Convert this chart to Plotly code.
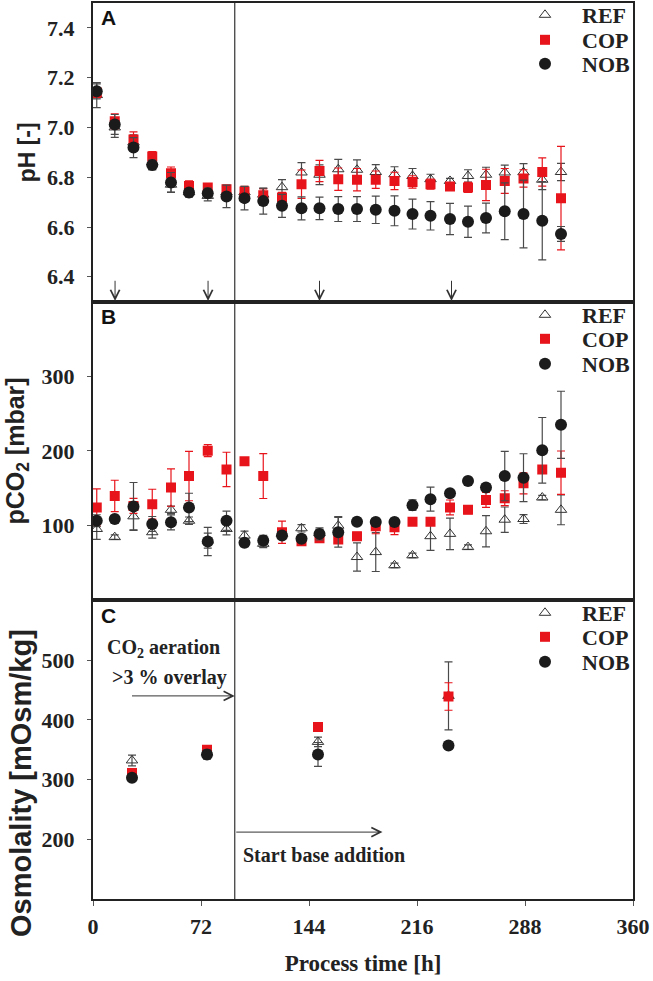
import plotly.graph_objects as go

# ---------------- data ----------------
t_h = [2.5, 14.5, 27, 39.5, 52, 64, 76.5, 89, 101, 113.5, 126, 139, 151,
       163.5, 176, 188.5, 201, 213, 225, 238, 250, 262, 274.5, 287, 299.5, 312]

ph_ref = [7.13, 7.00, 6.94, 6.86, 6.77, 6.74, 6.725, 6.74, 6.74, 6.73, 6.76, 6.819, 6.81,
          6.832, 6.83, 6.821, 6.812, 6.805, 6.792, 6.785, 6.805, 6.81, 6.819, 6.82, 6.79, 6.821]
ph_ref_err = [0.05, 0.04, 0.03, 0.02, 0.03, 0.02, 0.02, 0.02, 0.02, 0.025, 0.03, 0.04, 0.04,
              0.04, 0.04, 0.03, 0.03, 0.03, 0.02, 0.01, 0.025, 0.03, 0.03, 0.035, 0.04, 0.035]
ph_cop = [7.14, 7.025, 6.952, 6.883, 6.816, 6.765, 6.759, 6.752, 6.743, 6.728, 6.719, 6.772, 6.825,
          6.792, 6.79, 6.79, 6.785, 6.781, 6.772, 6.763, 6.759, 6.769, 6.785, 6.795, 6.821, 6.716]
ph_cop_err = [0.02, 0.03, 0.03, 0.02, 0.025, 0.02, 0.015, 0.015, 0.02, 0.025, 0.02, 0.057, 0.043,
              0.045, 0.045, 0.035, 0.035, 0.025, 0.02, 0.01, 0.02, 0.063, 0.05, 0.035, 0.057, 0.208]
ph_nob = [7.145, 7.012, 6.919, 6.849, 6.779, 6.739, 6.736, 6.723, 6.716, 6.704, 6.685, 6.675, 6.675,
          6.672, 6.672, 6.669, 6.665, 6.652, 6.645, 6.632, 6.621, 6.636, 6.663, 6.652, 6.625, 6.572]
ph_nob_err = [0.03, 0.04, 0.04, 0.02, 0.04, 0.015, 0.02, 0.045, 0.047, 0.052, 0.046, 0.046, 0.045,
              0.05, 0.05, 0.055, 0.06, 0.06, 0.057, 0.063, 0.063, 0.06, 0.114, 0.136, 0.157, 0.03]

pco2_ref = [95.6, 84.6, 112.5, 91.2, 121.2, 106.6, 80, 95.6, 86.7, 75.7, 89, 96.5, 90,
            100, 58, 64.6, 46.9, 60.2, 85.9, 89, 71.3, 92.5, 108, 108.9, 137.7, 121.2]
pco2_ref_err = [14, 3, 18, 8, 5, 5, 10, 8, 6, 5, 5, 5, 5,
                12, 19, 26, 3, 3, 19, 21, 3, 21, 17, 6, 3, 20]
pco2_cop = [124.4, 139.8, 126.5, 128.8, 151, 166.4, 200.5, 175.3, 186.3, 166.4, 91.2, 79, 83.2,
            81.4, 85.9, 99.2, 97.9, 105.3, 105.3, 124.4, 121.2, 134.5, 136.8, 156.7, 175.3, 171]
pco2_cop_err = [25, 21, 10, 20, 25, 33, 8, 23, 0, 30, 15, 5, 5,
                5, 5, 10, 10, 5, 5, 10, 5, 10, 10, 14, 5, 29]
pco2_nob = [106.6, 108.9, 125.8, 102.3, 104.5, 124.4, 78.8, 106.6, 77, 80, 86.7, 82.5, 89,
            91.2, 105.3, 104.9, 104.9, 127.5, 135.5, 143.4, 159.8, 151, 166.4, 164.3, 200.9, 235]
pco2_nob_err = [8, 5, 32, 10, 10, 19, 19, 13, 5, 7, 5, 5, 8,
                20, 5, 5, 5, 7, 16, 5, 5, 5, 33, 32, 44, 45]

t_osm = [26, 76, 150, 237]
osm_ref = [332, 345, 363, 440]
osm_ref_err = [9, 5, 8, 57]
osm_cop = [311, 350, 388, 439]
osm_cop_err = [3, 3, 5, 23]
osm_nob = [303, 342, 342, 357]
osm_nob_err = [3, 8, 20, 3]

feed_times = [14.7, 76.7, 151, 239]
switch_time = 94.5
co2_arrow = [25, 94.5]
base_arrow = [94.5, 193]

series_names = ["REF", "COP", "NOB"]
x_ticks = [0, 72, 144, 216, 288, 360]

# ---------------- styling ----------------
RED = "#e8141b"
DARK = "#1b1b1b"
GREY = "#4a4a4a"
SERIF = "Liberation Serif"
SANS = "Liberation Sans"

styles = {
    "REF": dict(marker=dict(symbol="triangle-up-open", size=10, color="#333333",
                            line=dict(width=1, color="#333333")), err_color=GREY),
    "COP": dict(marker=dict(symbol="square", size=10, color=RED,
                            line=dict(width=0)), err_color=RED),
    "NOB": dict(marker=dict(symbol="circle", size=12, color=DARK,
                            line=dict(width=0)), err_color=GREY),
}

panels = [
    ("x", "y", t_h, {"REF": (ph_ref, ph_ref_err), "COP": (ph_cop, ph_cop_err), "NOB": (ph_nob, ph_nob_err)}),
    ("x2", "y2", t_h, {"REF": (pco2_ref, pco2_ref_err), "COP": (pco2_cop, pco2_cop_err), "NOB": (pco2_nob, pco2_nob_err)}),
    ("x3", "y3", t_osm, {"REF": (osm_ref, osm_ref_err), "COP": (osm_cop, osm_cop_err), "NOB": (osm_nob, osm_nob_err)}),
]

fig = go.Figure()
legend_no = 0
for xa, ya, tt, d in panels:
    for name in series_names:
        legend_no += 1
        vals, errs = d[name]
        st = styles[name]
        fig.add_trace(go.Scatter(
            x=tt, y=vals, mode="markers", name=name,
            xaxis=xa, yaxis=ya,
            marker=st["marker"],
            error_y=dict(type="data", array=errs, visible=True,
                         color=st["err_color"], thickness=1.2, width=4),
            legend="legend" if legend_no == 1 else f"legend{legend_no}",
        ))

# plot area geometry (px) for legend placement
W, H = 653, 981
ML, MR, MT, MB = 93, 20, 3, 82
plot_h = H - MT - MB
plot_w = W - ML - MR

def py(px):
    return 1 - (px - MT) / plot_h

def pxx(px):
    return (px - ML) / plot_w

legend_rows_px = [15, 40, 64, 315, 339, 364, 613, 637, 662]
legend_layout = {}
for i, rpx in enumerate(legend_rows_px):
    key = "legend" if i == 0 else f"legend{i + 1}"
    legend_layout[key] = dict(
        x=pxx(508), xanchor="left", y=py(rpx), yanchor="middle",
        bgcolor="rgba(0,0,0,0)", borderwidth=0,
        font=dict(family=SERIF, size=22, color="#222222", weight="bold"),
        itemwidth=64, itemclick=False,
    )

axis_common = dict(showline=True, linecolor="#222222", linewidth=2, mirror=True,
                   showgrid=False, zeroline=False, automargin=False)
tickfont = dict(family=SERIF, size=22, color="#222222", weight="bold")

fig.update_layout(
    width=W, height=H,
    margin=dict(l=ML, r=MR, t=MT, b=MB, autoexpand=False),
    paper_bgcolor="white", plot_bgcolor="white",
    showlegend=True,
    xaxis=dict(domain=[0, 1], range=[0, 360], anchor="y", showticklabels=False, ticks="",
               **axis_common),
    xaxis2=dict(domain=[0, 1], range=[0, 360], anchor="y2", showticklabels=False, ticks="",
                matches="x", **axis_common),
    xaxis3=dict(domain=[0, 1], range=[0, 360], anchor="y3", tickvals=x_ticks, ticks="outside",
                ticklen=5, tickcolor="#555555", tickfont=tickfont, ticklabelstandoff=2,
                matches="x",
                title=dict(text="Process time [h]", standoff=16,
                           font=dict(family=SERIF, size=23, color="#222222", weight="bold")),
                **axis_common),
    yaxis=dict(domain=[2 / 3, 1], range=[6.3, 7.5], anchor="x",
               tickvals=[6.4, 6.6, 6.8, 7.0, 7.2, 7.4], tickformat=".1f",
               ticks="outside", ticklen=4, tickcolor="#555555", tickfont=tickfont,
               ticklabelstandoff=8,
               title=dict(text="pH [-]", standoff=5,
                          font=dict(family=SANS, size=23, color="#222222", weight="bold")),
               **axis_common),
    yaxis2=dict(domain=[1 / 3, 2 / 3], range=[0, 400], anchor="x2",
                tickvals=[100, 200, 300],
                ticks="outside", ticklen=4, tickcolor="#555555", tickfont=tickfont,
                ticklabelstandoff=8,
                title=dict(text="pCO<sub>2</sub> [mbar]", standoff=10,
                           font=dict(family=SANS, size=25, color="#222222", weight="bold")),
                **axis_common),
    yaxis3=dict(domain=[0, 1 / 3], range=[100, 600], anchor="x3",
                tickvals=[200, 300, 400, 500],
                ticks="outside", ticklen=4, tickcolor="#555555", tickfont=tickfont,
                ticklabelstandoff=8,
                **axis_common),
    **legend_layout,
)

# osmolality axis title (sits lower than the panel centre in the original)
fig.add_annotation(text="Osmolality [mOsm/kg]", xref="paper", yref="paper",
                   x=pxx(21), y=py(783), xanchor="center", yanchor="middle",
                   textangle=-90, showarrow=False,
                   font=dict(family=SANS, size=29, color="#222222", weight="bold"))

# vertical line at start of base addition, across all panels
fig.add_shape(type="line", xref="x", yref="paper", x0=switch_time, x1=switch_time,
              y0=0, y1=1, line=dict(color="#333333", width=1.2), layer="below")

# panel letters
for letter, yref in zip(["A", "B", "C"], ["y domain", "y2 domain", "y3 domain"]):
    fig.add_annotation(text=letter, xref="paper", yref=yref, x=0.012, y=0.995,
                       xanchor="left", yanchor="top", showarrow=False,
                       font=dict(family=SANS, size=21, color="#111111", weight="bold"))

# feeding arrows in panel A
for ft in feed_times:
    fig.add_annotation(x=ft, y=6.303, ax=ft, ay=6.39, xref="x", yref="y",
                       axref="x", ayref="y", text="", showarrow=True,
                       arrowhead=5, arrowsize=1.8, arrowwidth=1, arrowcolor="#333333",
                       standoff=0, startstandoff=0)

# panel C annotations
ann_font = dict(family=SERIF, size=20, color="#222222", weight="bold")
fig.add_annotation(x=47, y=520, xref="x3", yref="y3", text="CO<sub>2</sub> aeration",
                   showarrow=False, font=ann_font)
fig.add_annotation(x=51, y=471, xref="x3", yref="y3", text="&gt;3 % overlay",
                   showarrow=False, font=ann_font)
fig.add_annotation(x=co2_arrow[1], y=440, ax=co2_arrow[0], ay=440, xref="x3", yref="y3",
                   axref="x3", ayref="y3", text="", showarrow=True,
                   arrowhead=5, arrowsize=1.8, arrowwidth=1, arrowcolor="#333333",
                   standoff=0, startstandoff=0)
fig.add_annotation(x=base_arrow[1], y=212, ax=base_arrow[0], ay=212, xref="x3", yref="y3",
                   axref="x3", ayref="y3", text="", showarrow=True,
                   arrowhead=5, arrowsize=1.8, arrowwidth=1, arrowcolor="#333333",
                   standoff=0, startstandoff=0)
fig.add_annotation(x=154, y=173, xref="x3", yref="y3", text="Start base addition",
                   showarrow=False, font=ann_font)

fig.write_html("out.html", config={"displayModeBar": False},
               post_script="document.body.style.margin='0';")
